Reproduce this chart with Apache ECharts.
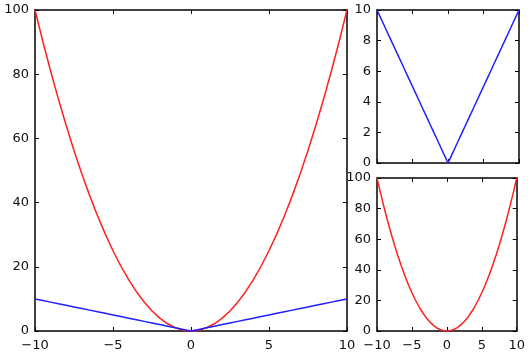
<!DOCTYPE html>
<html><head><meta charset="utf-8">
<script src="https://cdn.jsdelivr.net/npm/echarts@6/dist/echarts.min.js"></script>
<style>html,body{margin:0;padding:0;background:#fff}#c{width:528px;height:352px}</style>
</head><body><div id="c"></div>
<script>
var xs = [-10,-9.5,-9,-8.5,-8,-7.5,-7,-6.5,-6,-5.5,-5,-4.5,-4,-3.5,-3,-2.5,-2,-1.5,-1,-0.5,0,0.5,1,1.5,2,2.5,3,3.5,4,4.5,5,5.5,6,6.5,7,7.5,8,8.5,9,9.5,10];
var absVals = [10,9.5,9,8.5,8,7.5,7,6.5,6,5.5,5,4.5,4,3.5,3,2.5,2,1.5,1,0.5,0,0.5,1,1.5,2,2.5,3,3.5,4,4.5,5,5.5,6,6.5,7,7.5,8,8.5,9,9.5,10];
var sqVals = [100,90.25,81,72.25,64,56.25,49,42.25,36,30.25,25,20.25,16,12.25,9,6.25,4,2.25,1,0.25,0,0.25,1,2.25,4,6.25,9,12.25,16,20.25,25,30.25,36,42.25,49,56.25,64,72.25,81,90.25,100];
var xTicks = [-10,-5,0,5,10];

function pairs(a,b){return a.map(function(v,i){return [v,b[i]];});}
var font = {fontFamily:'DejaVu Sans', fontSize:13, color:'#111'};
function fmt(v){return v<0 ? '\u2212'+Math.abs(v) : String(v);}
var frame = {show:true, onZero:false, lineStyle:{color:'#000', width:1.5}};
var tick = {show:true, inside:true, length:4, lineStyle:{color:'#000', width:1}};
function xAx(gi, showLabel){
  return [
    {type:'value', gridIndex:gi, min:-10, max:10, interval:5, position:'bottom',
     axisLine:frame, axisTick:tick, splitLine:{show:false},
     axisLabel:Object.assign({show:showLabel, margin:8, formatter:fmt, showMinLabel:true, showMaxLabel:true}, font)},
    {type:'value', gridIndex:gi, min:-10, max:10, interval:5, position:'top',
     axisLine:frame, axisTick:tick, splitLine:{show:false}, axisLabel:{show:false}}
  ];
}
function yAx(gi, max, interval){
  return [
    {type:'value', gridIndex:gi, min:0, max:max, interval:interval, position:'left',
     axisLine:frame, axisTick:tick, splitLine:{show:false},
     axisLabel:Object.assign({show:true, margin:6, showMinLabel:true, showMaxLabel:true}, font)},
    {type:'value', gridIndex:gi, min:0, max:max, interval:interval, position:'right',
     axisLine:frame, axisTick:tick, splitLine:{show:false}, axisLabel:{show:false}}
  ];
}
var xAxes = [].concat(xAx(0,true), xAx(1,false), xAx(2,true));
var yAxes = [].concat(yAx(0,100,20), yAx(1,10,2), yAx(2,100,20));
function line(xi, yi, data, color){
  return {type:'line', xAxisIndex:xi, yAxisIndex:yi, data:data, showSymbol:false, symbol:'none',
    lineStyle:{color:color, width:1.5}, animation:false, silent:true, clip:false};
}
var chart = echarts.init(document.getElementById('c'), null, {renderer:'canvas'});
chart.setOption({
  backgroundColor:'#fff',
  animation:false,
  grid:[
    {left:35, top:10, width:312, height:322},
    {left:377, top:10, width:142, height:153},
    {left:377, top:178, width:142, height:154}
  ],
  xAxis: xAxes,
  yAxis: yAxes,
  series:[
    line(0,0,pairs(xs,sqVals),'#ff2020'),
    line(0,0,pairs(xs,absVals),'#2020ff'),
    line(2,2,pairs(xs,absVals),'#2020ff'),
    line(4,4,pairs(xs,sqVals),'#ff2020')
  ]
});
</script></body></html>
